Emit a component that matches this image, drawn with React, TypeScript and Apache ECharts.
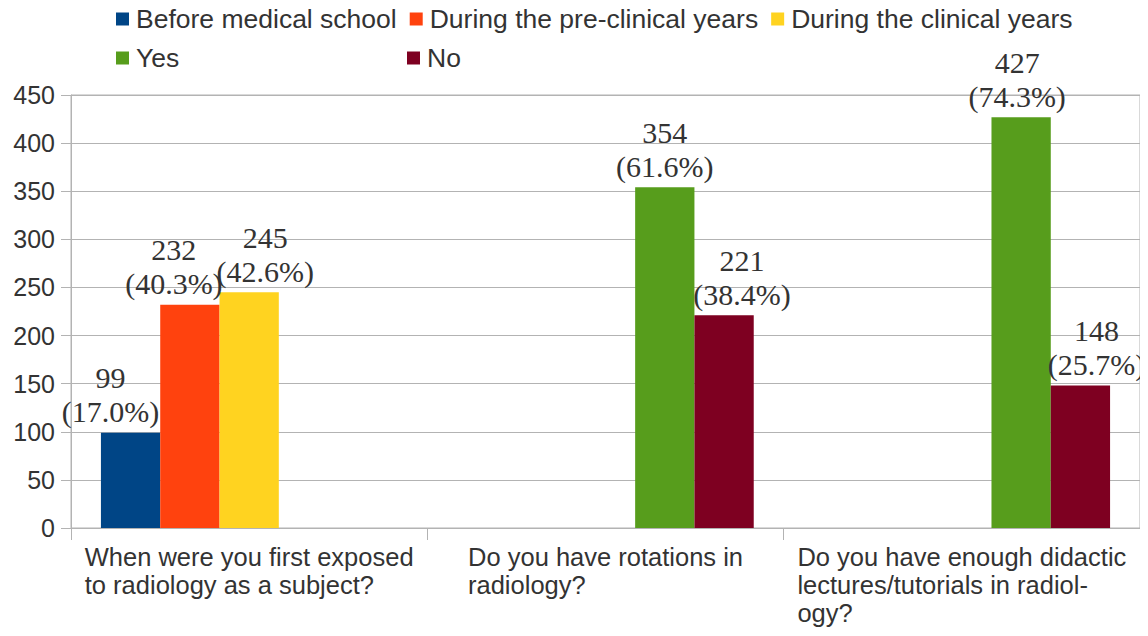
import React, { useEffect, useRef } from "react";
import * as echarts from "echarts";

const categories = [
  "When were you first exposed\nto radiology as a subject?",
  "Do you have rotations in\nradiology?",
  "Do you have enough didactic\nlectures/tutorials in radiol-\nogy?",
];

const seriesNames = [
  "Before medical school",
  "During the pre-clinical years",
  "During the clinical years",
  "Yes",
  "No",
];

const beforeValues = [99, null, null];
const preClinicalValues = [232, null, null];
const clinicalValues = [245, null, null];
const yesValues = [null, 354, 427];
const noValues = [null, 221, 148];

const beforePct = ["17.0", null, null];
const preClinicalPct = ["40.3", null, null];
const clinicalPct = ["42.6", null, null];
const yesPct = [null, "61.6", "74.3"];
const noPct = [null, "38.4", "25.7"];

const yTicks = [0, 50, 100, 150, 200, 250, 300, 350, 400, 450];

const colors = ["#004586", "#ff420e", "#ffd320", "#579d1c", "#7e0021"];

// horizontal nudges of the value labels (style only)
const labelShift = [
  [-20, 0, 0],
  [-16, 0, 0],
  [16, 0, 0],
  [0, 0, -4],
  [0, 18, 16],
];

const SANS = "'Liberation Sans', Arial, sans-serif";
const SERIF = "'Liberation Serif', 'Times New Roman', serif";
const TEXT = "#333333";
const GRID = "#b3b3b3";

export default function App() {
  const ref = useRef<HTMLDivElement>(null);

  useEffect(() => {
    if (!ref.current) return;
    const chart = echarts.init(ref.current, null, { renderer: "svg" });
    const values = [beforeValues, preClinicalValues, clinicalValues, yesValues, noValues];
    const pcts = [beforePct, preClinicalPct, clinicalPct, yesPct, noPct];

    const series = seriesNames.map((name, si) => ({
      name,
      type: "bar",
      barGap: "0%",
      barCategoryGap: "16.8%",
      itemStyle: { color: colors[si] },
      data: values[si].map((v, ci) =>
        v === null
          ? null
          : {
              value: v,
              label: {
                show: true,
                position: "top",
                distance: 4,
                offset: [labelShift[si][ci], 0],
                formatter: `${v}\n(${pcts[si][ci]}%)`,
                fontFamily: SERIF,
                fontSize: 30,
                lineHeight: 34,
                color: TEXT,
              },
            }
      ),
    }));

    const legendCommon = {
      orient: "horizontal",
      icon: "rect",
      itemWidth: 13,
      itemHeight: 13,
      itemGap: 13,
      selectedMode: false,
      textStyle: {
        fontFamily: SANS,
        fontSize: 26.5,
        lineHeight: 30,
        color: TEXT,
        padding: [0, 0, 0, 2],
      },
    };

    chart.setOption({
      animation: false,
      backgroundColor: "#ffffff",
      legend: [
        { ...legendCommon, left: 111, top: -1, data: seriesNames.slice(0, 3) },
        { ...legendCommon, left: 111, top: 38, data: ["Yes"] },
        { ...legendCommon, left: 402, top: 38, data: ["No"] },
      ],
      grid: {
        left: 71,
        right: 8,
        top: 95,
        bottom: 108,
        show: true,
        borderColor: GRID,
        borderWidth: 1,
        containLabel: false,
      },
      xAxis: {
        type: "category",
        data: categories,
        axisLine: { show: true, lineStyle: { color: GRID, width: 1 } },
        axisTick: { show: true, length: 12, lineStyle: { color: GRID } },
        axisLabel: {
          interval: 0,
          margin: 15,
          formatter: (v: string) =>
            v
              .split("\n")
              .map((l) => `{a|${l}}`)
              .join("\n"),
          rich: {
            a: {
              align: "left",
              fontFamily: SANS,
              fontSize: 25.5,
              lineHeight: 28,
              color: TEXT,
            },
          },
        },
      },
      yAxis: {
        type: "value",
        min: 0,
        max: 450,
        interval: 50,
        axisLine: { show: true, lineStyle: { color: GRID, width: 1 } },
        axisTick: { show: true, length: 10, lineStyle: { color: GRID } },
        splitLine: { show: true, lineStyle: { color: GRID, width: 1 } },
        axisLabel: {
          margin: 16,
          fontFamily: SANS,
          fontSize: 25,
          color: TEXT,
          formatter: (v: number) => (yTicks.includes(v) ? String(v) : ""),
        },
      },
      series,
    });

    return () => chart.dispose();
  }, []);

  return <div ref={ref} style={{ width: 1148, height: 636, margin: -8 }} />;
}
